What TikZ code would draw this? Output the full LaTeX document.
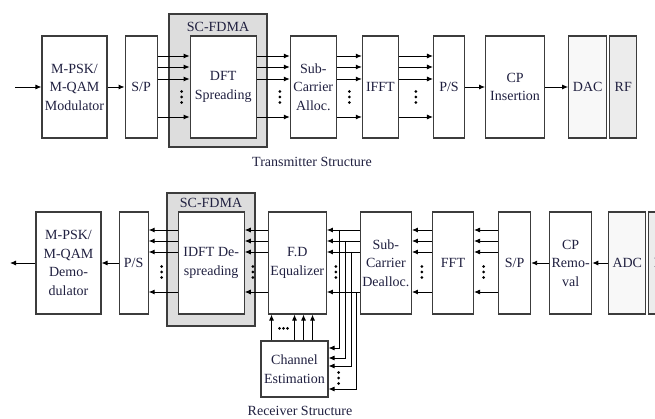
\documentclass[tikz,border=0pt]{standalone}
\usepackage{fontspec}
\setmainfont{Liberation Serif}
\usetikzlibrary{arrows.meta,positioning,calc}
\definecolor{txtnavy}{RGB}{32,32,64}
\definecolor{scgrey}{RGB}{221,221,221}
\definecolor{convlight}{RGB}{248,248,248}
\definecolor{rfgrey}{RGB}{236,236,236}
\definecolor{edgegrey}{RGB}{60,60,60}

\begin{document}
\begin{tikzpicture}[x=1pt, y=-1pt, >={Latex[length=6pt,width=5pt]},
    blk/.style={draw=edgegrey, line width=1.1pt, fill=white, minimum height=102pt, inner sep=1pt, align=center, text=txtnavy, font=\fontsize{14}{18.5}\selectfont},
    sig/.style={->, line width=0.9pt},
    scbox/.style={draw=edgegrey, line width=1.1pt, fill=scgrey, inner sep=0pt},
    caption/.style={text=txtnavy, font=\fontsize{14}{17}\selectfont},
    dotcol/.pic={\fill (0,5.5pt) circle (1.5pt) (0,0) circle (1.5pt) (0,-5.5pt) circle (1.5pt);},
    dotrow/.pic={\fill (-4pt,0) circle (1.5pt) (0,0) circle (1.5pt) (4pt,0) circle (1.5pt);}]
    \useasboundingbox (0,0) rectangle (655,419);
    \clip (0,0) rectangle (655,419);

    % transmitter
    \node[scbox, minimum width=98pt, minimum height=133pt] (sctx) at (218,80.5) {};
    \node[caption] (sctxlab) at (218,27) {SC-FDMA};
    \node[blk, minimum width=65pt] (mod) at (74.5,87) {M-PSK/\\M-QAM\\Modulator};
    \node[blk, minimum width=32pt, right=17pt of mod] (sp) {S/P};
    \node[blk, minimum width=66pt, right=32pt of sp] (dft) {DFT\\Spreading};
    \node[blk, minimum width=46pt, right=33pt of dft] (sub) {Sub-\\Carrier\\Alloc.};
    \node[blk, minimum width=36pt, right=25pt of sub] (ifft) {IFFT};
    \node[blk, minimum width=31pt, right=34pt of ifft] (ps) {P/S};
    \node[blk, minimum width=59pt, right=20pt of ps] (cp) {CP\\Insertion};
    \node[blk, minimum width=38pt, fill=convlight, right=23pt of cp] (dac) {DAC};
    \node[blk, minimum width=27pt, fill=rfgrey, right=2pt of dac] (rf) {RF};
    \node[caption] (txcap) at (312,162) {Transmitter Structure};

    \coordinate (txin) at (15,87);
    \draw[sig] (txin) -- (mod);
    \draw[sig] (mod) -- (sp);
    \foreach \dy in {31,20,8,-30} {
        \draw[sig] ([yshift=\dy pt]sp.east) -- ([yshift=\dy pt]dft.west);
        \draw[sig] ([yshift=\dy pt]dft.east) -- ([yshift=\dy pt]sub.west);
        \draw[sig] ([yshift=\dy pt]sub.east) -- ([yshift=\dy pt]ifft.west);
        \draw[sig] ([yshift=\dy pt]ifft.east) -- ([yshift=\dy pt]ps.west);
    }
    \pic at ($(sp.east)!.75!(dft.west)+(0,-10pt)$) {dotcol};
    \pic at ($(dft.east)!.7!(sub.west)+(0,-10pt)$) {dotcol};
    \pic at ($(sub.east)!.5!(ifft.west)+(0,-10pt)$) {dotcol};
    \pic at ($(ifft.east)!.5!(ps.west)+(0,-10pt)$) {dotcol};
    \draw[sig] (ps) -- (cp);
    \draw[sig] (cp) -- (dac);

    % receiver
    \node[scbox, minimum width=88pt, minimum height=133pt] (scrx) at (211,259.5) {};
    \node[caption] (scrxlab) at (211,203) {SC-FDMA};
    \node[blk, minimum width=65pt] (demod) at (68.5,263) {M-PSK/\\M-QAM\\Demo-\\dulator};
    \node[blk, minimum width=29pt, right=17pt of demod] (ps2) {P/S};
    \node[blk, minimum width=66pt, right=29pt of ps2] (idft) {IDFT De-\\spreading};
    \node[blk, minimum width=58pt, right=23pt of idft] (eq) {F.D\\Equalizer};
    \node[blk, minimum width=51pt, right=33pt of eq] (dealloc) {Sub-\\Carrier\\Dealloc.};
    \node[blk, minimum width=41pt, right=20pt of dealloc] (fft) {FFT};
    \node[blk, minimum width=32pt, right=24pt of fft] (sp2) {S/P};
    \node[blk, minimum width=42pt, right=18pt of sp2] (cpr) {CP\\Remo-\\val};
    \node[blk, minimum width=37pt, fill=convlight, right=16pt of cpr] (adc) {ADC};
    \node[blk, minimum width=27pt, fill=rfgrey, right=2pt of adc] (rf2) {RF};
    \node[blk, minimum width=67pt, minimum height=56pt] (chest) at (294.5,369) {Channel\\Estimation};
    \node[caption] (rxcap) at (300,411) {Receiver Structure};

    \coordinate (rxout) at (10,263);
    \draw[sig] (demod) -- (rxout);
    \draw[sig] (ps2) -- (demod);
    \foreach \dy in {33,22,11,-29} {
        \draw[sig] ([yshift=\dy pt]idft.west) -- ([yshift=\dy pt]ps2.east);
        \draw[sig] ([yshift=\dy pt]eq.west) -- ([yshift=\dy pt]idft.east);
        \draw[sig] ([yshift=\dy pt]dealloc.west) -- ([yshift=\dy pt]eq.east);
        \draw[sig] ([yshift=\dy pt]fft.west) -- ([yshift=\dy pt]dealloc.east);
        \draw[sig] ([yshift=\dy pt]sp2.west) -- ([yshift=\dy pt]fft.east);
    }
    \pic at ($(ps2.east)!.45!(idft.west)+(0,-9pt)$) {dotcol};
    \pic at ($(idft.east)!.35!(eq.west)+(0,-9pt)$) {dotcol};
    \pic at ($(eq.east)!.27!(dealloc.west)+(0,-9pt)$) {dotcol};
    \pic at ($(dealloc.east)!.5!(fft.west)+(0,-9pt)$) {dotcol};
    \pic at ($(fft.east)!.4!(sp2.west)+(0,-9pt)$) {dotcol};
    \draw[sig] (cpr) -- (sp2);
    \draw[sig] (adc) -- (cpr);

    % channel estimation taps
    \foreach \dx/\dy/\ty in {13/33/21, 19/22/11, 25/11/3, 30/-29/-20}
        \draw[sig] ([xshift=\dx pt,yshift=\dy pt]eq.east) |- ([yshift=\ty pt]chest.east);
    \pic at ($(chest.east)+(10pt,-9pt)$) {dotcol};
    \foreach \dx in {-23,0,9,18}
        \draw[sig] ([xshift=\dx pt]chest.north) -- ([xshift=\dx pt]chest.north |- eq.south);
    \pic at ($(chest.north)+(-11pt,12pt)$) {dotrow};
\end{tikzpicture}
\end{document}
